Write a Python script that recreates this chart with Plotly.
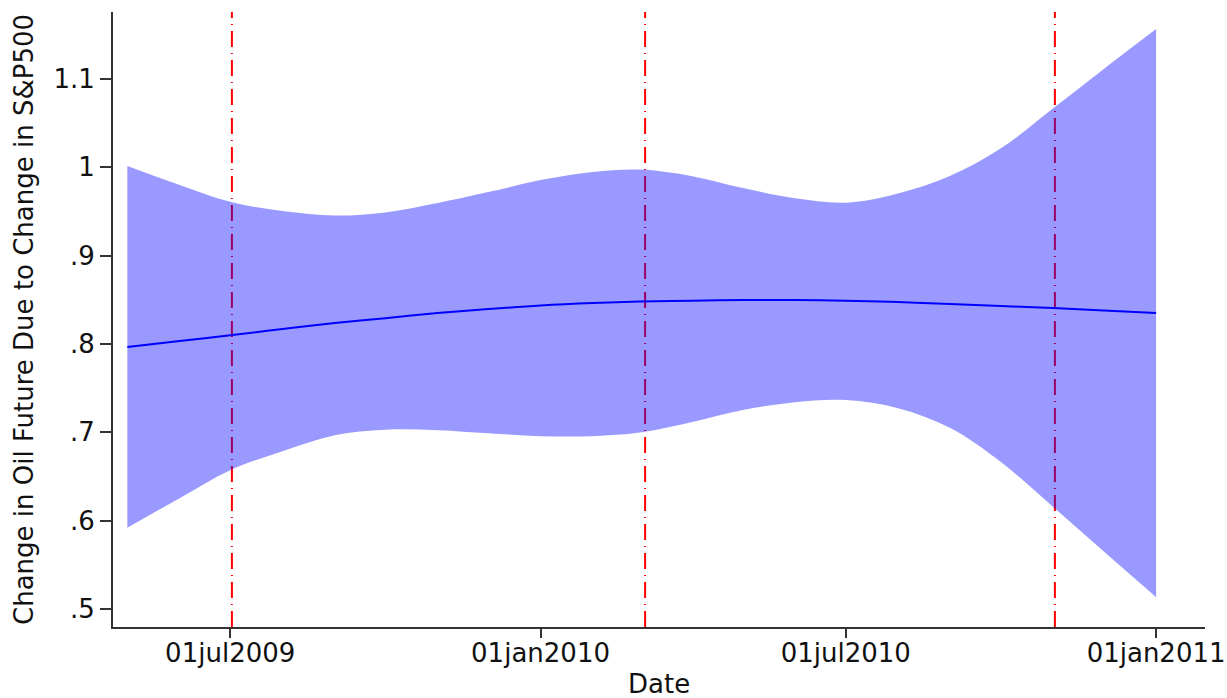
import plotly.graph_objects as go

# Monthly evaluation dates of the smoothed estimate
dates = [
    "2009-05-01", "2009-06-01", "2009-07-01", "2009-08-01", "2009-09-01",
    "2009-10-01", "2009-11-01", "2009-12-01", "2010-01-01", "2010-02-01",
    "2010-03-01", "2010-04-01", "2010-05-01", "2010-06-01", "2010-07-01",
    "2010-08-01", "2010-09-01", "2010-10-01", "2010-11-01", "2010-12-01",
    "2011-01-01",
]

# Point estimate and confidence band
estimate = [
    0.7965, 0.8033, 0.8100, 0.8169, 0.8237, 0.8293, 0.8350, 0.8395, 0.8435,
    0.8463, 0.8480, 0.8490, 0.8497, 0.8497, 0.8490, 0.8475, 0.8452, 0.8430,
    0.8407, 0.8380, 0.8350,
]
upper = [
    1.0015, 0.9800, 0.9610, 0.9505, 0.9455, 0.9490, 0.9596, 0.9720, 0.9856,
    0.9947, 0.9975, 0.9900, 0.9766, 0.9650, 0.9600, 0.9705, 0.9905, 1.0215,
    1.0670, 1.1115, 1.1566,
]
lower = [
    0.5920, 0.6255, 0.6572, 0.6787, 0.6968, 0.7030, 0.7025, 0.6990, 0.6957,
    0.6957, 0.6997, 0.7116, 0.7252, 0.7342, 0.7365, 0.7274, 0.7048, 0.6663,
    0.6155, 0.5650, 0.5134,
]

# Event dates marked with vertical lines
event_dates = ["2009-07-02", "2010-03-04", "2010-11-02"]

# Axis ticks
x_tickvals = ["2009-07-01", "2010-01-01", "2010-07-01", "2011-01-01"]
x_ticktext = ["01jul2009", "01jan2010", "01jul2010", "01jan2011"]
y_tickvals = [0.5, 0.6, 0.7, 0.8, 0.9, 1.0, 1.1]
y_ticktext = [".5", ".6", ".7", ".8", ".9", "1", "1.1"]

FONT = "DejaVu Sans"
FSIZE = 26
AXIS_COLOR = "#333333"
SMOOTH = 1.0

fig = go.Figure()

# Confidence band (upper edge, then lower edge filled to it)
fig.add_trace(go.Scatter(
    x=dates, y=upper, mode="lines",
    line=dict(width=0, shape="spline", smoothing=SMOOTH, color="rgba(0,0,255,0)"),
    hoverinfo="skip", showlegend=False,
))
fig.add_trace(go.Scatter(
    x=dates, y=lower, mode="lines",
    line=dict(width=0, shape="spline", smoothing=SMOOTH, color="rgba(0,0,255,0)"),
    fill="tonexty", fillcolor="rgba(0,0,255,0.4)",
    hoverinfo="skip", showlegend=False,
))
# Point estimate
fig.add_trace(go.Scatter(
    x=dates, y=estimate, mode="lines",
    line=dict(width=2, shape="spline", smoothing=SMOOTH, color="#0000ff"),
    showlegend=False,
))

# Event lines sit below the band
for d in event_dates:
    fig.add_shape(
        type="line", xref="x", yref="paper",
        x0=d, x1=d, y0=0, y1=1,
        line=dict(color="#ff0000", width=2, dash="16px,6px,1px,6px"),
        layer="below",
    )

# x-axis title placed under the tick labels
fig.add_annotation(
    text="Date", xref="paper", yref="paper", x=0.5, y=0,
    xanchor="center", yanchor="middle", yshift=-57, showarrow=False,
    font=dict(family=FONT, size=FSIZE, color="#111111"),
)

fig.update_layout(
    width=1227, height=698,
    margin=dict(l=113, r=22, t=12, b=71),
    paper_bgcolor="white", plot_bgcolor="white",
    font=dict(family=FONT, size=FSIZE, color="#111111"),
    showlegend=False,
)

fig.update_xaxes(
    range=["2009-04-22 12:00", "2011-01-30"],
    tickvals=x_tickvals, ticktext=x_ticktext,
    ticks="outside", ticklen=9, tickwidth=2, tickcolor=AXIS_COLOR,
    ticklabelstandoff=-7,
    showline=True, linewidth=2, linecolor=AXIS_COLOR,
    showgrid=False, zeroline=False, automargin=False,
    tickfont=dict(family=FONT, size=FSIZE),
)
fig.update_yaxes(
    range=[0.4796, 1.1759],
    tickvals=y_tickvals, ticktext=y_ticktext,
    ticks="outside", ticklen=11, tickwidth=2, tickcolor=AXIS_COLOR,
    showline=True, linewidth=2, linecolor=AXIS_COLOR,
    showgrid=False, zeroline=False, automargin=False,
    tickfont=dict(family=FONT, size=FSIZE),
    title=dict(text="Change in Oil Future Due to Change in S&P500",
               font=dict(family=FONT, size=FSIZE), standoff=12),
)

fig.write_html("out.html")
